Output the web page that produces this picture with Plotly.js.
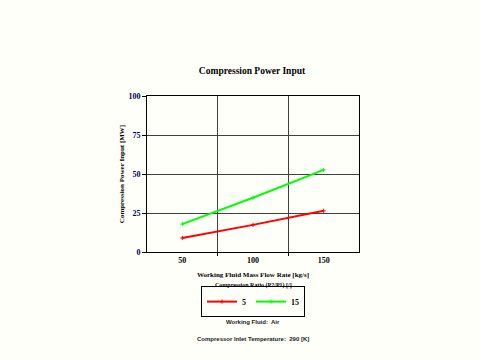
<!DOCTYPE html>
<html><head><meta charset="utf-8">
<script src="https://cdn.plot.ly/plotly-3.0.1.min.js"></script>
<style>html,body{margin:0;padding:0;background:#fffffa;}</style>
</head><body><div id="chart" style="width:480px;height:360px;"></div>
<script>
const flowRates = [50, 100, 150];
const power_ratio5 = [9.0, 17.4, 26.4];
const power_ratio15 = [17.9, 34.8, 52.6];
const seriesNames = ['5', '15'];
const xTickVals = [50, 100, 150];
const xGridVals = [75, 125];
const yTickVals = [0, 25, 50, 75, 100];

const serif = 'Liberation Serif, Times New Roman, serif';
const sans = 'Liberation Sans, Arial, sans-serif';
const traces = [
  {x: flowRates, y: power_ratio5, name: seriesNames[0], type: 'scatter', mode: 'lines+markers',
   line: {color: '#ff0000', width: 2}, marker: {symbol: 'cross-thin', size: 3, color: '#ff0000', line: {color: '#ff0000', width: 1}}},
  {x: flowRates, y: power_ratio15, name: seriesNames[1], type: 'scatter', mode: 'lines+markers',
   line: {color: '#00ff00', width: 2}, marker: {symbol: 'cross-thin', size: 3, color: '#00ff00', line: {color: '#00ff00', width: 1}}},
  {x: xGridVals, y: [null, null], xaxis: 'x2', showlegend: false, hoverinfo: 'skip', type: 'scatter', mode: 'lines'}
];

const layout = {
  width: 480, height: 360,
  paper_bgcolor: '#fffffa', plot_bgcolor: '#fffffa',
  margin: {l: 147, r: 121, t: 96, b: 108},
  title: {text: '<b>Compression Power Input</b>', font: {family: serif, size: 9.5, color: '#000'}, x: 0.525, xanchor: 'center', y: 0.805, yanchor: 'middle'},
  xaxis: {range: [25, 175], tickvals: xTickVals, ticktext: xTickVals.map(String), showgrid: false, zeroline: false,
    ticks: '', showline: true, linecolor: '#000', linewidth: 1, mirror: true,
    tickfont: {family: serif, size: 8, color: '#000', weight: 'bold'},
    title: {text: '<b>Working Fluid Mass Flow Rate [kg/s]</b>', font: {family: serif, size: 7, color: '#000'}, standoff: 8}},
  xaxis2: {overlaying: 'x', range: [25, 175], tickvals: xGridVals, showticklabels: false, ticks: 'outside', ticklen: 3, tickcolor: '#000',
    showgrid: true, gridcolor: '#404040', gridwidth: 1, zeroline: false, side: 'bottom', anchor: 'y'},
  yaxis: {range: [0, 100], tickvals: yTickVals, showgrid: true, gridcolor: '#404040', gridwidth: 1, zeroline: false,
    ticks: 'outside', ticklen: 4, tickcolor: '#000', showline: true, linecolor: '#000', linewidth: 1, mirror: true,
    tickfont: {family: serif, size: 8, color: '#000050', weight: 'bold'},
    title: {text: '<b>Compression Power Input [MW]</b>', font: {family: serif, size: 7, color: '#000'}, standoff: 2}},
  showlegend: true,
  legend: {orientation: 'h', x: 0.5, xanchor: 'center', y: -0.318, yanchor: 'middle', bordercolor: '#000', borderwidth: 1,
    bgcolor: '#fffffa', font: {family: serif, size: 8, color: '#000', weight: 'bold'}, itemwidth: 30, tracegroupgap: 0},
  annotations: [
    {text: '<b>Compression Ratio (P2/P1) [/]</b>', xref: 'paper', yref: 'paper', x: 0.5, y: -0.214, xanchor: 'center', yanchor: 'middle', showarrow: false,
     font: {family: serif, size: 6, color: '#000'}},
    {text: '<b>Working Fluid:  Air</b>', xref: 'paper', yref: 'paper', x: 0.5, y: -0.449, xanchor: 'center', yanchor: 'middle', showarrow: false,
     font: {family: sans, size: 6, color: '#222'}},
    {text: '<b>Compressor Inlet Temperature:  290 [K]</b>', xref: 'paper', yref: 'paper', x: 0.5, y: -0.558, xanchor: 'center', yanchor: 'middle', showarrow: false,
     font: {family: sans, size: 6, color: '#222'}}
  ]
};
Plotly.newPlot('chart', traces, layout, {staticPlot: true, displayModeBar: false});
</script></body></html>
